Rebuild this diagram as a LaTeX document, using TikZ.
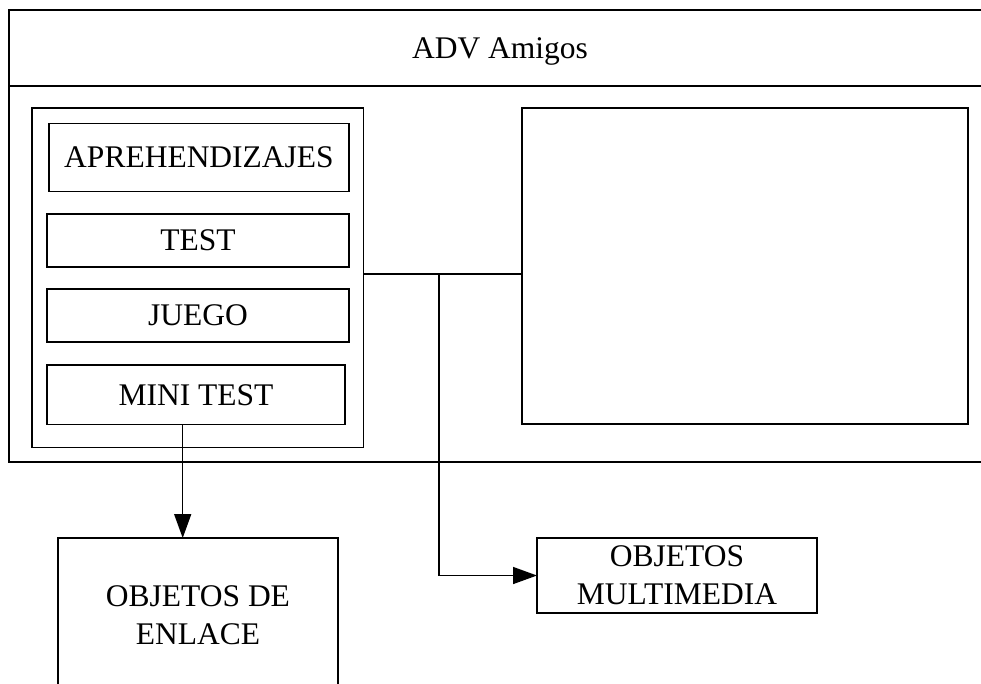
\documentclass[tikz,border=0pt]{standalone}
\usepackage{fontspec}
\setmainfont{Liberation Serif}
\usetikzlibrary{arrows.meta}
\begin{document}
\begin{tikzpicture}[x=1pt,y=-1pt,
  box/.style={draw=black,line width=1.5pt,rectangle,inner sep=0pt,outer sep=0pt,align=center,
    font=\fontsize{31.5}{38}\selectfont},
  conn/.style={draw=black,line width=1.5pt},
  arr/.style={conn,-{Triangle[length=24pt,width=17pt]}}]
\useasboundingbox (0,0) rectangle (981,683);
\clip (0,0) rectangle (981,683);
\fill[white] (0,0) rectangle (981,683);
\node[box,minimum width=982pt,minimum height=76pt,text depth=0pt] (header) at (500,48) {ADV Amigos};
\node[box,minimum width=982pt,minimum height=376pt] (body) at (500,274) {};
\node[box,minimum width=331.5pt,minimum height=339.5pt] (panel) at (197.75,277.75) {};
\node[box,minimum width=300pt,minimum height=68pt] (aprend) at (199,157.5) {APREHENDIZAJES};
\node[box,minimum width=302pt,minimum height=53pt] (test) at (198,240.5) {TEST};
\node[box,minimum width=302pt,minimum height=53pt] (juego) at (198,315.5) {JUEGO};
\node[box,minimum width=298pt,minimum height=59.5pt] (minitest) at (196,394.75) {MINI TEST};
\node[box,minimum width=446pt,minimum height=316pt] (right) at (745,266) {};
\node[box,minimum width=280pt,minimum height=154pt] (enlace) at (198,615) {OBJETOS DE\\ENLACE};
\node[box,minimum width=280pt,minimum height=75pt] (multi) at (677,575.5) {OBJETOS\\MULTIMEDIA};
\coordinate (jn) at (439,274);
\coordinate (ax) at (182.7,0);
\draw[conn] (jn -| panel.east) -- (jn -| right.west);
\draw[arr] (jn) |- (multi.west);
\draw[arr] (ax |- minitest.south) -- (ax |- enlace.north);
\end{tikzpicture}
\end{document}
